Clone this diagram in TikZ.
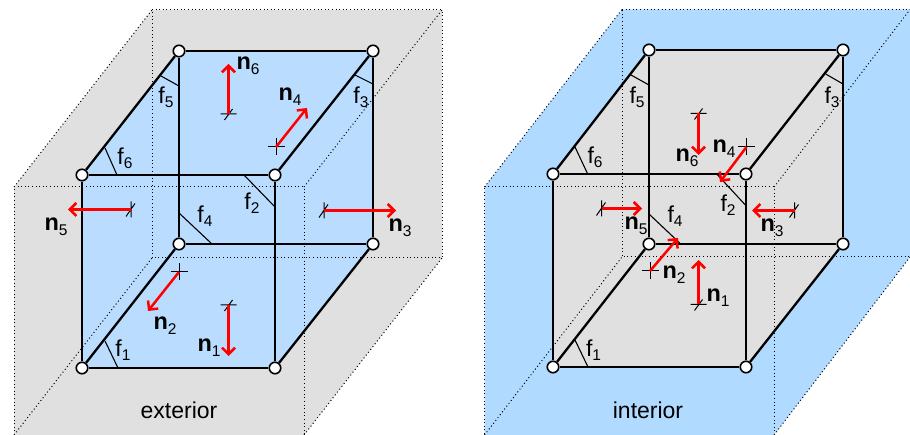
\documentclass[tikz,border=0pt]{standalone}
\usepackage{fontspec}
\setmainfont{Liberation Sans}
\usetikzlibrary{arrows.meta}
\definecolor{cubeblue}{HTML}{BADDFF}
\definecolor{outerblue}{HTML}{B0DAFF}
\definecolor{panelgray}{HTML}{E0E0E0}
\definecolor{redarrow}{HTML}{FF0000}
\tikzset{
  x=1pt,y=-1pt,
  vertex/.style={circle,draw=black,fill=white,line width=1.6pt,inner sep=0pt,minimum size=11.5pt},
  edge/.style={draw=black,line width=2.3pt},
  anglemark/.style={draw=black,line width=1.1pt},
  dotline/.style={draw=black,line width=1pt,dash pattern=on 1pt off 2.6pt},
  normal/.style={draw=redarrow,line width=2.5pt,-{Straight Barb[length=6.5pt,width=13pt,line width=2.5pt]}},
  tickline/.style={draw=black,line width=1pt},
  facelabel/.style={inner sep=0pt,text=black,font=\fontsize{23}{25}\selectfont},
  normlabel/.style={inner sep=0pt,text=black,font=\fontsize{23.5}{25}\selectfont},
  sidelabel/.style={inner sep=0pt,text=black,font=\fontsize{23}{25}\selectfont},
}
\newcommand{\fl}[1]{f{\fontsize{15.5}{15}\selectfont\raisebox{-4pt}{#1}}}
\newcommand{\nl}[1]{{\bfseries n}{\fontsize{15.5}{15}\selectfont\raisebox{-5pt}{#1}}}
\newcommand{\htick}[1]{\draw[tickline] (#1) +(-8,0) -- +(8,0) +(-4,6) -- +(4,-5);}
\newcommand{\vtick}[1]{\draw[tickline] (#1) +(0,-8) -- +(0,8) +(-5,7) -- +(4,-6);}
\newcommand{\xtick}[1]{\draw[tickline] (#1) +(-8.5,0) -- +(8.5,0) +(0,-8.5) -- +(0,8.5);}
\begin{document}
\begin{tikzpicture}
\useasboundingbox (0,0) rectangle (910,435);
% ---------- left panel
\coordinate (la) at (14,187); \coordinate (lb) at (304,187);
\coordinate (lc) at (14,435); \coordinate (ld) at (304,435);
\coordinate (le) at (152,10); \coordinate (lf) at (442,10);
\coordinate (lg) at (152,258); \coordinate (lh) at (442,258);
\fill[panelgray] (le) -- (lf) -- (lh) -- (ld) -- (lc) -- (la) -- cycle;
\coordinate (A) at (82,368); \coordinate (B) at (275,368);
\coordinate (C) at (373,244); \coordinate (D) at (179,244);
\coordinate (E) at (82,175); \coordinate (F) at (275,175);
\coordinate (G) at (373,51); \coordinate (H) at (179,51);
\fill[cubeblue] (A) -- (E) -- (H) -- (G) -- (C) -- (B) -- cycle;
\draw[dotline] (la) -- (lb) -- (ld) -- (lc) -- cycle;
\draw[dotline] (le) -- (lf) -- (lh) -- (lg) -- cycle;
\draw[dotline] (la) -- (le) (lb) -- (lf) (lc) -- (lg) (ld) -- (lh);
\draw[anglemark] (105,341) -- (118,368);
\draw[anglemark] (105,148) -- (117,175);
\draw[anglemark] (161,76) -- (179,86);
\draw[anglemark] (355,75) -- (373,84);
\draw[anglemark] (244,175) -- (275,207);
\draw[anglemark] (179,213) -- (212,244);
\node[vertex] (vA) at (A) {}; \node[vertex] (vB) at (B) {};
\node[vertex] (vC) at (C) {}; \node[vertex] (vD) at (D) {};
\node[vertex] (vE) at (E) {}; \node[vertex] (vF) at (F) {};
\node[vertex] (vG) at (G) {}; \node[vertex] (vH) at (H) {};
\draw[edge] (vA) -- (vB); \draw[edge] (vB) -- (vF); \draw[edge] (vF) -- (vE);
\draw[edge] (vE) -- (vA); \draw[edge] (vE) -- (vH); \draw[edge] (vH) -- (vG);
\draw[edge] (vG) -- (vF); \draw[edge] (vG) -- (vC); \draw[edge] (vC) -- (vD);
\draw[edge] (vD) -- (vH); \draw[edge] (vD) -- (vA); \draw[edge] (vC) -- (vB);
\coordinate (n1s) at (228.5,305); \coordinate (n1e) at (228.5,356);
\coordinate (n2s) at (179,272); \coordinate (n2e) at (148,311);
\coordinate (n3s) at (324,210.5); \coordinate (n3e) at (396,210.5);
\coordinate (n4s) at (276,147); \coordinate (n4e) at (307,108);
\coordinate (n5s) at (131,209.5); \coordinate (n5e) at (68,209.5);
\coordinate (n6s) at (228.5,114); \coordinate (n6e) at (228.5,64);
\htick{n1s} \xtick{n2s} \vtick{n3s} \xtick{n4s} \vtick{n5s} \htick{n6s}
\draw[normal] (n1s) -- (n1e); \draw[normal] (n2s) -- (n2e);
\draw[normal] (n3s) -- (n3e); \draw[normal] (n4s) -- (n4e);
\draw[normal] (n5s) -- (n5e); \draw[normal] (n6s) -- (n6e);
\node[normlabel] (ln1) at (209,348) {\nl{1}};
\node[normlabel] (ln2) at (165,326) {\nl{2}};
\node[normlabel] (ln3) at (400,228) {\nl{3}};
\node[normlabel] (ln4) at (290,97) {\nl{4}};
\node[normlabel] (ln5) at (56,227) {\nl{5}};
\node[normlabel] (ln6) at (248,66) {\nl{6}};
\node[facelabel] (lf1) at (123,350) {\fl{1}};
\node[facelabel] (lf2) at (252,203) {\fl{2}};
\node[facelabel] (lf3) at (361,97) {\fl{3}};
\node[facelabel] (lf4) at (205,216) {\fl{4}};
\node[facelabel] (lf5) at (166,97) {\fl{5}};
\node[facelabel] (lf6) at (125,158) {\fl{6}};
\node[sidelabel] (ext) at (179,410) {exterior};
% ---------- right panel
\coordinate (ra) at (484.5,187); \coordinate (rb) at (774,187);
\coordinate (rc) at (484.5,435); \coordinate (rd) at (774,435);
\coordinate (re) at (622,9.5); \coordinate (rf) at (910,9.5);
\coordinate (rg) at (622,257); \coordinate (rh) at (910,257);
\fill[outerblue] (re) -- (rf) -- (rh) -- (rd) -- (rc) -- (ra) -- cycle;
\coordinate (P) at (553,367); \coordinate (Q) at (746,367);
\coordinate (R) at (843,244); \coordinate (S) at (649,244);
\coordinate (T) at (553,174); \coordinate (U) at (746,174);
\coordinate (V) at (843,50); \coordinate (W) at (649,50);
\fill[panelgray] (P) -- (T) -- (W) -- (V) -- (R) -- (Q) -- cycle;
\draw[dotline] (ra) -- (rb) -- (rd) -- (rc) -- cycle;
\draw[dotline] (re) -- (rf) -- (rh) -- (rg) -- cycle;
\draw[dotline] (ra) -- (re) (rb) -- (rf) (rc) -- (rg) (rd) -- (rh);
\draw[anglemark] (575,340) -- (588,367);
\draw[anglemark] (575,147) -- (587.7,174);
\draw[anglemark] (631,75) -- (649,85);
\draw[anglemark] (825.7,74) -- (843,84);
\draw[anglemark] (716.7,174) -- (746,205.7);
\draw[anglemark] (649,214) -- (680.7,244);
\node[vertex] (vP) at (P) {}; \node[vertex] (vQ) at (Q) {};
\node[vertex] (vR) at (R) {}; \node[vertex] (vS) at (S) {};
\node[vertex] (vT) at (T) {}; \node[vertex] (vU) at (U) {};
\node[vertex] (vV) at (V) {}; \node[vertex] (vW) at (W) {};
\draw[edge] (vP) -- (vQ); \draw[edge] (vQ) -- (vU); \draw[edge] (vU) -- (vT);
\draw[edge] (vT) -- (vP); \draw[edge] (vT) -- (vW); \draw[edge] (vW) -- (vV);
\draw[edge] (vV) -- (vU); \draw[edge] (vV) -- (vR); \draw[edge] (vR) -- (vS);
\draw[edge] (vS) -- (vW); \draw[edge] (vS) -- (vP); \draw[edge] (vR) -- (vQ);
\coordinate (m1s) at (698.5,304.5); \coordinate (m1e) at (698.5,260);
\coordinate (m2s) at (650,271); \coordinate (m2e) at (678,238);
\coordinate (m3s) at (794.5,210.5); \coordinate (m3e) at (752,210.5);
\coordinate (m4s) at (746.5,147); \coordinate (m4e) at (720,182);
\coordinate (m5s) at (601.5,208.5); \coordinate (m5e) at (642,208.5);
\coordinate (m6s) at (698.5,113.5); \coordinate (m6e) at (698.5,155);
\htick{m1s} \xtick{m2s} \vtick{m3s} \xtick{m4s} \vtick{m5s} \htick{m6s}
\draw[normal] (m1s) -- (m1e); \draw[normal] (m2s) -- (m2e);
\draw[normal] (m3s) -- (m3e); \draw[normal] (m4s) -- (m4e);
\draw[normal] (m5s) -- (m5e); \draw[normal] (m6s) -- (m6e);
\node[normlabel] (rn1) at (718,298) {\nl{1}};
\node[normlabel] (rn2) at (674,275) {\nl{2}};
\node[normlabel] (rn3) at (772,228) {\nl{3}};
\node[normlabel] (rn4) at (724,149) {\nl{4}};
\node[normlabel] (rn5) at (636,226) {\nl{5}};
\node[normlabel] (rn6) at (687,158) {\nl{6}};
\node[facelabel] (rf1) at (593.5,350) {\fl{1}};
\node[facelabel] (rf2) at (728,205) {\fl{2}};
\node[facelabel] (rf3) at (832,97) {\fl{3}};
\node[facelabel] (rf4) at (675,216) {\fl{4}};
\node[facelabel] (rf5) at (637,97) {\fl{5}};
\node[facelabel] (rf6) at (595,157) {\fl{6}};
\node[sidelabel] (int) at (648,410) {interior};
\end{tikzpicture}
\end{document}
